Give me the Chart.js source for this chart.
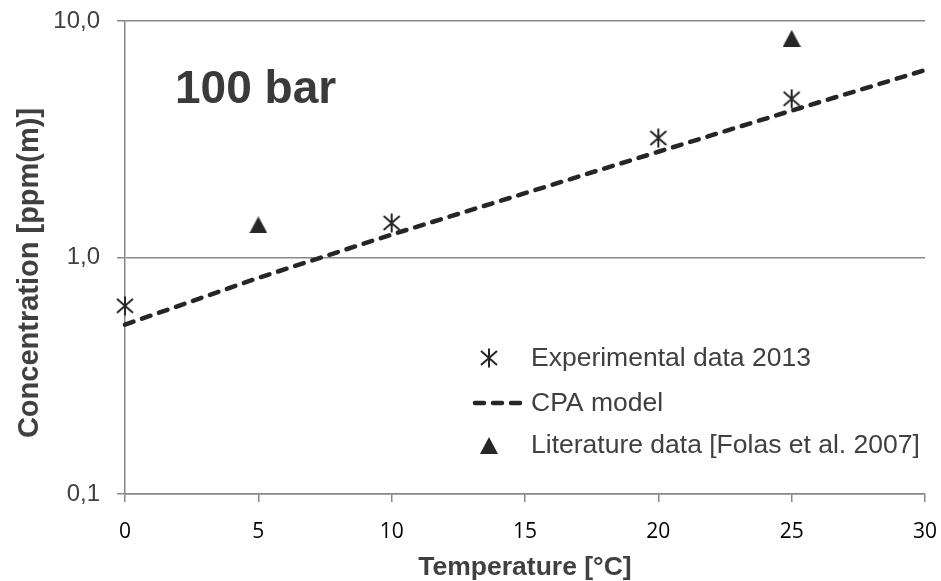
<!DOCTYPE html>
<html><head><meta charset="utf-8">
<script src="https://cdn.jsdelivr.net/npm/chart.js@4"></script>
<style>html,body{margin:0;padding:0;background:#fff;} canvas{display:block}</style>
</head><body>
<canvas id="c" width="941" height="581"></canvas>
<script>
const chartTitle = '100 bar';
const xTitle = 'Temperature [°C]';
const yTitle = 'Concentration [ppm(m)]';
const xTickValues = [0, 5, 10, 15, 20, 25, 30];
const yTickValues = [0.1, 1, 10];
const yTickLabels = ['0,1', '1,0', '10,0'];
const expTemps = [0, 10, 20, 25];
const expConc = [0.625, 1.40, 3.20, 4.69];
const cpaTemps = [0, 5, 10, 15, 20, 25, 30];
const cpaConc = [0.52, 0.82, 1.25, 1.87, 2.80, 4.18, 6.2];
const litTemps = [5, 25];
const litConc = [1.375, 8.45];
const seriesLabels = ['Experimental data 2013', 'CPA model', 'Literature data [Folas et al. 2007]'];

const INK = '#262626';
const TXT = '#404040';

function makeAsterisk() {
  const c = document.createElement('canvas');
  c.width = 20; c.height = 20;
  const g = c.getContext('2d');
  g.strokeStyle = INK; g.lineWidth = 2;
  g.beginPath();
  g.moveTo(2, 3); g.lineTo(18, 17);
  g.moveTo(18, 3); g.lineTo(2, 17);
  g.moveTo(10, 0.5); g.lineTo(10, 19.5);
  g.stroke();
  return c;
}
function makeTriangle() {
  const c = document.createElement('canvas');
  c.width = 18; c.height = 17;
  const g = c.getContext('2d');
  g.fillStyle = INK;
  g.beginPath();
  g.moveTo(9, 0); g.lineTo(18, 17); g.lineTo(0, 17); g.closePath();
  g.fill();
  return c;
}
const asterisk = makeAsterisk();
const triangle = makeTriangle();

const toXY = (xs, ys) => xs.map((x, i) => ({x: x, y: ys[i]}));
const noPad = s => { s.paddingTop = 0; s.paddingBottom = 0; s.paddingLeft = 0; s.paddingRight = 0; };

const overlay = {
  id: 'overlay',
  afterDraw(chart) {
    const ctx = chart.ctx;
    const a = chart.chartArea;
    ctx.save();
    // inner title
    ctx.fillStyle = '#3a3a3a';
    ctx.font = 'bold 46px "Liberation Sans", Arial, sans-serif';
    ctx.textAlign = 'left';
    ctx.textBaseline = 'alphabetic';
    ctx.fillText(chartTitle, a.left + 50, 103);
    // y axis title
    ctx.save();
    ctx.translate(30, 273);
    ctx.rotate(-Math.PI / 2);
    ctx.textAlign = 'center';
    ctx.textBaseline = 'middle';
    ctx.fillStyle = TXT;
    ctx.font = 'bold 29px "Liberation Sans", Arial, sans-serif';
    ctx.fillText(yTitle, 0, 0);
    ctx.restore();
    // legend
    const mx = a.left + 364;
    const tx = a.left + 406;
    const rows = [358, 403, 445];
    ctx.font = '26.5px "Liberation Sans", Arial, sans-serif';
    ctx.textBaseline = 'middle';
    ctx.textAlign = 'left';
    chart.data.datasets.forEach((ds, i) => {
      const y = rows[i];
      if (ds.showLine) {
        ctx.strokeStyle = ds.borderColor;
        ctx.lineWidth = ds.borderWidth;
        ctx.lineCap = 'round';
        ctx.setLineDash(ds.borderDash);
        ctx.beginPath();
        ctx.moveTo(mx - 14, y);
        ctx.lineTo(tx - 4, y);
        ctx.stroke();
        ctx.setLineDash([]);
      } else {
        const img = ds.pointStyle;
        ctx.drawImage(img, Math.round(mx - img.width / 2), Math.round(y - img.height / 2));
      }
      ctx.fillStyle = TXT;
      ctx.fillText(ds.label, tx, y + 1);
    });
    ctx.restore();
  }
};

new Chart(document.getElementById('c'), {
  type: 'scatter',
  data: {
    datasets: [
      {label: seriesLabels[0], data: toXY(expTemps, expConc), pointStyle: asterisk, pointRadius: 10, showLine: false, order: 1, clip: false},
      {label: seriesLabels[1], data: toXY(cpaTemps, cpaConc), showLine: true, pointRadius: 0, borderColor: INK, borderWidth: 4.5, borderDash: [9, 9], borderCapStyle: 'round', order: 0, clip: false},
      {label: seriesLabels[2], data: toXY(litTemps, litConc), pointStyle: triangle, pointRadius: 10, showLine: false, order: 2, clip: false}
    ]
  },
  options: {
    responsive: false,
    animation: false,
    devicePixelRatio: 1,
    layout: {padding: {left: 0, right: 16, top: 21, bottom: 0}},
    plugins: {legend: {display: false}, tooltip: {enabled: false}, title: {display: false}},
    scales: {
      x: {
        type: 'linear', min: 0, max: 30,
        afterBuildTicks: s => { s.ticks = xTickValues.map(v => ({value: v})); },
        afterFit: s => { s.height = 87; noPad(s); },
        grid: {drawOnChartArea: false, drawTicks: true, tickLength: 8, color: '#888', lineWidth: 1.5},
        border: {display: true, color: '#888', width: 1.5},
        ticks: {color: '#000', padding: 17, font: {family: '"Open Sans", sans-serif', size: 21}, maxRotation: 0},
        title: {display: true, text: xTitle, color: TXT, font: {family: '"Liberation Sans", Arial, sans-serif', size: 26.5, weight: 'bold', lineHeight: 1}, padding: {top: 0, bottom: 0}}
      },
      y: {
        type: 'logarithmic', min: 0.1, max: 10,
        afterBuildTicks: s => { s.ticks = yTickValues.map(v => ({value: v})); },
        afterFit: s => { s.width = 125; noPad(s); },
        grid: {drawOnChartArea: true, drawTicks: true, tickLength: 8, color: '#888', lineWidth: 1.5},
        border: {display: true, color: '#888', width: 1.5},
        ticks: {color: TXT, padding: 17, font: {family: '"Liberation Sans", Arial, sans-serif', size: 24},
          callback: (v) => { const i = yTickValues.indexOf(v); return i >= 0 ? yTickLabels[i] : ''; }},
        title: {display: false}
      }
    }
  },
  plugins: [overlay]
});
</script>
</body></html>
